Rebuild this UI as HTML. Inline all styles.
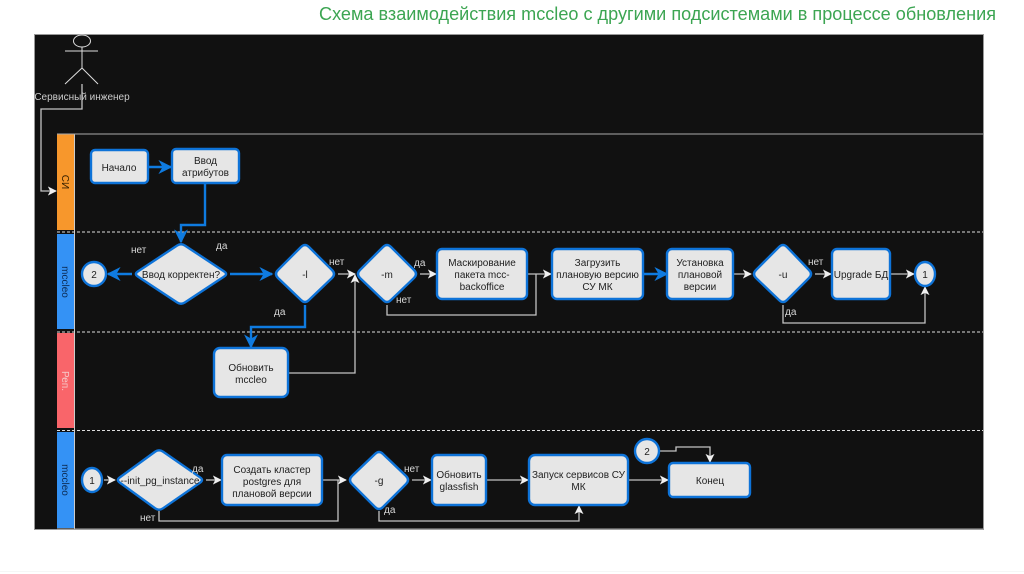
<!DOCTYPE html>
<html><head><meta charset="utf-8">
<style>
html,body{margin:0;padding:0;background:#fff;width:1024px;height:574px;overflow:hidden}
svg{display:block;filter:blur(.35px)}
text{font-family:"Liberation Sans","Noto Sans CJK SC",sans-serif}
.n{fill:#e6e6e6;stroke:#0e73d8;stroke-width:2.4}
.t{fill:#1e1e1e;font-size:10px;text-anchor:middle}
.l{fill:#d8d8d8;font-size:10px}
.w{fill:none;stroke:#c4c4c4;stroke-width:1.3}
.b{fill:none;stroke:#0f7be0;stroke-width:2.4}
</style></head><body>
<svg width="1024" height="574" viewBox="0 0 1024 574" xmlns="http://www.w3.org/2000/svg">
<defs>
<marker id="aw" viewBox="0 0 10 10" refX="9" refY="5" markerWidth="9" markerHeight="9" markerUnits="userSpaceOnUse" orient="auto"><path d="M0 0L10 5L0 10L2.500 5Z" fill="#f0f0f0"/></marker>
<marker id="ab" viewBox="0 0 10 10" refX="9" refY="5" markerWidth="14" markerHeight="14" markerUnits="userSpaceOnUse" orient="auto"><path d="M0 0L10 5L0 10L3 5Z" fill="#0f7be0"/></marker>
</defs>
<rect width="1024" height="574" fill="#fff"/>
<path d="M0 571.500H1024" stroke="#f6f6f6" stroke-width="1"/>
<text x="319" y="20" font-size="18.500" fill="#3ca552" textLength="677" lengthAdjust="spacingAndGlyphs">Схема взаимодействия mccleo с другими подсистемами в процессе обновления</text>
<rect x="34.500" y="34.500" width="949" height="495" fill="#111" stroke="#999" stroke-width="1"/>

<!-- lanes -->
<rect x="57" y="134" width="17" height="96" fill="#f7972c"/>
<rect x="57" y="234" width="17" height="95" fill="#3492f5"/>
<rect x="57" y="333" width="17" height="95" fill="#f9656a"/>
<rect x="57" y="432" width="17" height="96" fill="#3492f5"/>
<path d="M74.500 134V529" stroke="#ccc" stroke-width="1" fill="none"/>
<path d="M57 134H983M57 529H983" stroke="#aaa" stroke-width="1" fill="none"/>
<path d="M57 232H983M57 332H983M57 430.500H983" stroke="#ddd" stroke-width="1" stroke-dasharray="3 2" fill="none"/>
<text transform="translate(65.500 182) rotate(90)" text-anchor="middle" dy="3.500" font-size="10" fill="#3a2200">СИ</text>
<text transform="translate(65.500 282) rotate(90)" text-anchor="middle" dy="3.500" font-size="10" fill="#0c2c55">mccleo</text>
<text transform="translate(65.500 381) rotate(90)" text-anchor="middle" dy="3.500" font-size="10" fill="#f5c8c8">Реп.</text>
<text transform="translate(65.500 480) rotate(90)" text-anchor="middle" dy="3.500" font-size="10" fill="#0c2c55">mccleo</text>

<!-- actor -->
<g fill="none" stroke="#ddd" stroke-width="1">
<ellipse cx="82" cy="41" rx="8.500" ry="6"/>
<path d="M82 47V68M65 51H98M82 68L65 84M82 68L98 84"/>
</g>
<text x="82" y="100" font-size="10" fill="#ccc" text-anchor="middle">Сервисный инженер</text>
<path class="w" d="M82 84V109H41V191H56" marker-end="url(#aw)"/>

<!-- blue connectors -->
<path class="b" d="M148 167H171" marker-end="url(#ab)"/>
<path class="b" d="M205 183V225H181V242" marker-end="url(#ab)"/>
<path class="b" d="M132 274H108" marker-end="url(#ab)"/>
<path class="b" d="M230 274H272" marker-end="url(#ab)"/>
<path class="b" d="M305 305V327H251V347" marker-end="url(#ab)"/>
<path class="b" d="M644 274H667" marker-end="url(#ab)"/>

<!-- white connectors -->
<path class="w" d="M338 274H355" marker-end="url(#aw)"/>
<path class="w" d="M289 373H355V275" marker-end="url(#aw)"/>
<path class="w" d="M420 274H436" marker-end="url(#aw)"/>
<path class="w" d="M528 274H551" marker-end="url(#aw)"/>
<path class="w" d="M387 305V315H536V274"/>
<path class="w" d="M734 274H751" marker-end="url(#aw)"/>
<path class="w" d="M815 274H831" marker-end="url(#aw)"/>
<path class="w" d="M891 274H914" marker-end="url(#aw)"/>
<path class="w" d="M783 305V323H925V287" marker-end="url(#aw)"/>
<path class="w" d="M104 480H115" marker-end="url(#aw)"/>
<path class="w" d="M206 480H221" marker-end="url(#aw)"/>
<path class="w" d="M323 480H346" marker-end="url(#aw)"/>
<path class="w" d="M159 511V521H338V480"/>
<path class="w" d="M412 480H431" marker-end="url(#aw)"/>
<path class="w" d="M487 480H528" marker-end="url(#aw)"/>
<path class="w" d="M629 480H668" marker-end="url(#aw)"/>
<path class="w" d="M379 511V521H579V506" marker-end="url(#aw)"/>
<path class="w" d="M659 451H676V447H710V462" marker-end="url(#aw)"/>

<!-- nodes row 1 -->
<rect class="n" x="91" y="150" width="57" height="33" rx="4"/>
<text class="t" x="119" y="171">Начало</text>
<rect class="n" x="172" y="149" width="67" height="34" rx="4"/>
<text class="t" x="205.500" y="164">Ввод</text><text class="t" x="205.500" y="176">атрибутов</text>

<path class="n" d="M177.200 245.500Q181 243 184.800 245.500L224.200 271.500Q228 274 224.200 276.500L184.800 302.500Q181 305 177.200 302.500L137.800 276.500Q134 274 137.800 271.500Z"/>
<text class="t" x="181" y="278">Ввод корректен?</text>
<circle class="n" cx="94" cy="274" r="12"/><text class="t" x="94" y="278">2</text>

<path class="n" d="M301 247Q305 243 309 247L332 270Q336 274 332 278L309 300Q305 304 301 300L278 278Q274 274 278 270Z"/>
<text class="t" x="305" y="278">-l</text>
<rect class="n" x="214" y="348" width="74" height="49" rx="6"/>
<text class="t" x="251" y="371">Обновить</text><text class="t" x="251" y="383">mccleo</text>

<path class="n" d="M383 247Q387 243 391 247L414 270Q418 274 414 278L391 300Q387 304 383 300L360 278Q356 274 360 270Z"/>
<text class="t" x="387" y="278">-m</text>
<rect class="n" x="437" y="249" width="90" height="50" rx="5"/>
<text class="t" x="482" y="266">Маскирование</text><text class="t" x="482" y="278">пакета mcc-</text><text class="t" x="482" y="290">backoffice</text>
<rect class="n" x="552" y="249" width="91" height="50" rx="5"/>
<text class="t" x="597.500" y="266">Загрузить</text><text class="t" x="597.500" y="278">плановую версию</text><text class="t" x="597.500" y="290">СУ МК</text>
<rect class="n" x="667" y="249" width="66" height="50" rx="5"/>
<text class="t" x="700" y="266">Установка</text><text class="t" x="700" y="278">плановой</text><text class="t" x="700" y="290">версии</text>
<path class="n" d="M779 247Q783 243 787 247L809 270Q813 274 809 278L787 300Q783 304 779 300L756 278Q752 274 756 270Z"/>
<text class="t" x="783" y="278">-u</text>
<rect class="n" x="832" y="249" width="58" height="50" rx="5"/>
<text class="t" x="861" y="278">Upgrade БД</text>
<ellipse class="n" cx="925" cy="274" rx="10" ry="12"/><text class="t" x="925" y="278">1</text>

<!-- nodes row 2 -->
<ellipse class="n" cx="92" cy="480" rx="10" ry="12"/><text class="t" x="92" y="484">1</text>
<path class="n" d="M155.200 451.600Q159 449 163 451.600L200 477.300Q204 480 200 482.700L163 508.300Q159 511 155.200 508.400L119.800 482.600Q116 480 119.800 477.400Z"/>
<text class="t" x="160" y="484">--init_pg_instance</text>
<rect class="n" x="222" y="455" width="100" height="50" rx="5"/>
<text class="t" x="272" y="473">Создать кластер</text><text class="t" x="272" y="485">postgres для</text><text class="t" x="272" y="497">плановой версии</text>
<path class="n" d="M375 454Q379 450 383 454L406 476Q410 480 406 484L383 507Q379 511 375 507L352 484Q348 480 352 476Z"/>
<text class="t" x="379" y="484">-g</text>
<rect class="n" x="432" y="455" width="54" height="50" rx="5"/>
<text class="t" x="459" y="478">Обновить</text><text class="t" x="459" y="490">glassfish</text>
<rect class="n" x="529" y="455" width="99" height="50" rx="6"/>
<text class="t" x="578.500" y="478">Запуск сервисов СУ</text><text class="t" x="578.500" y="490">МК</text>
<rect class="n" x="669" y="463" width="81" height="34" rx="4"/>
<text class="t" x="710" y="484">Конец</text>
<circle class="n" cx="647" cy="451" r="12"/><text class="t" x="647" y="455">2</text>

<!-- labels -->
<text class="l" x="131" y="253">нет</text>
<text class="l" x="216" y="249">да</text>
<text class="l" x="329" y="265">нет</text>
<text class="l" x="274" y="315">да</text>
<text class="l" x="414" y="266">да</text>
<text class="l" x="396" y="303">нет</text>
<text class="l" x="808" y="265">нет</text>
<text class="l" x="785" y="315">да</text>
<text class="l" x="192" y="472">да</text>
<text class="l" x="140" y="521">нет</text>
<text class="l" x="404" y="472">нет</text>
<text class="l" x="384" y="513">да</text>
</svg>
</body></html>
